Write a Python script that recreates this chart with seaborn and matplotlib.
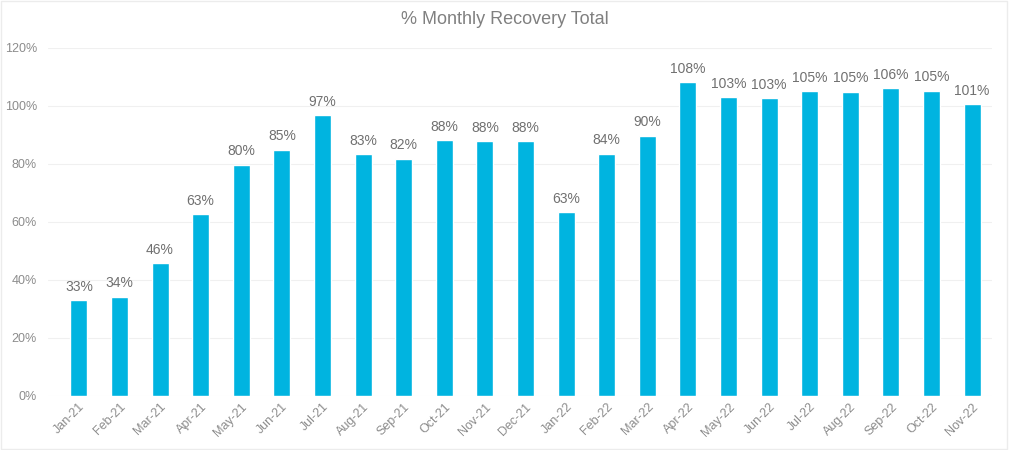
import numpy as np
import pandas as pd
import matplotlib
matplotlib.use("Agg")
import matplotlib.pyplot as plt
import seaborn as sns
from matplotlib.ticker import PercentFormatter

meses = ["Jan-21", "Feb-21", "Mar-21", "Apr-21", "May-21", "Jun-21", "Jul-21",
         "Aug-21", "Sep-21", "Oct-21", "Nov-21", "Dec-21", "Jan-22", "Feb-22",
         "Mar-22", "Apr-22", "May-22", "Jun-22", "Jul-22", "Aug-22", "Sep-22",
         "Oct-22", "Nov-22"]
recuperacion = [33.1, 34.2, 45.9, 62.7, 79.8, 84.9, 96.9, 83.4, 81.8, 88.3, 87.9,
                87.9, 63.4, 83.5, 89.7, 108.3, 103.1, 102.6, 105.2, 104.9, 106.2,
                105.3, 100.7]

df = pd.DataFrame({"mes": meses, "valor": recuperacion})

sns.set_style("white")
plt.rcParams["font.family"] = ["Liberation Sans", "DejaVu Sans"]

gris = "#8c8c8c"
fig = plt.figure(figsize=(10.09, 4.5), dpi=100)
ax = fig.add_axes([48 / 1009, 54 / 450, 944 / 1009, 348 / 450])

sns.barplot(data=df, x="mes", y="valor", color="#00b4e0", width=0.42,
            saturation=1, ax=ax, zorder=3)

for i, v in enumerate(recuperacion):
    ax.text(i, v + 2.2, f"{v:.0f}%", ha="center", va="bottom",
            fontsize=10, color="#707070")

ax.set_ylim(0, 120)
ax.set_xlim(-0.76, 22.49)
ax.set_yticks(np.arange(0, 121, 20))
ax.yaxis.set_major_formatter(PercentFormatter(decimals=0))
ax.grid(axis="y", color="#f0f0f0", linewidth=0.8, zorder=0)
for s in ax.spines.values():
    s.set_visible(False)
ax.tick_params(axis="both", length=0, colors=gris, labelsize=9)
ax.tick_params(axis="y", pad=8)
plt.setp(ax.get_xticklabels(), rotation=45, ha="right", rotation_mode="anchor")
ax.set_xlabel("")
ax.set_ylabel("")

fig.text(0.5, 1 - 20 / 450, "% Monthly Recovery Total", ha="center",
         va="center", fontsize=13, color="#808080")

fig.patches.append(plt.Rectangle((0.001, 0.002), 0.997, 0.996,
                                 transform=fig.transFigure, fill=False,
                                 edgecolor="#ececec", linewidth=1))

fig.savefig("out.png", dpi=100)
